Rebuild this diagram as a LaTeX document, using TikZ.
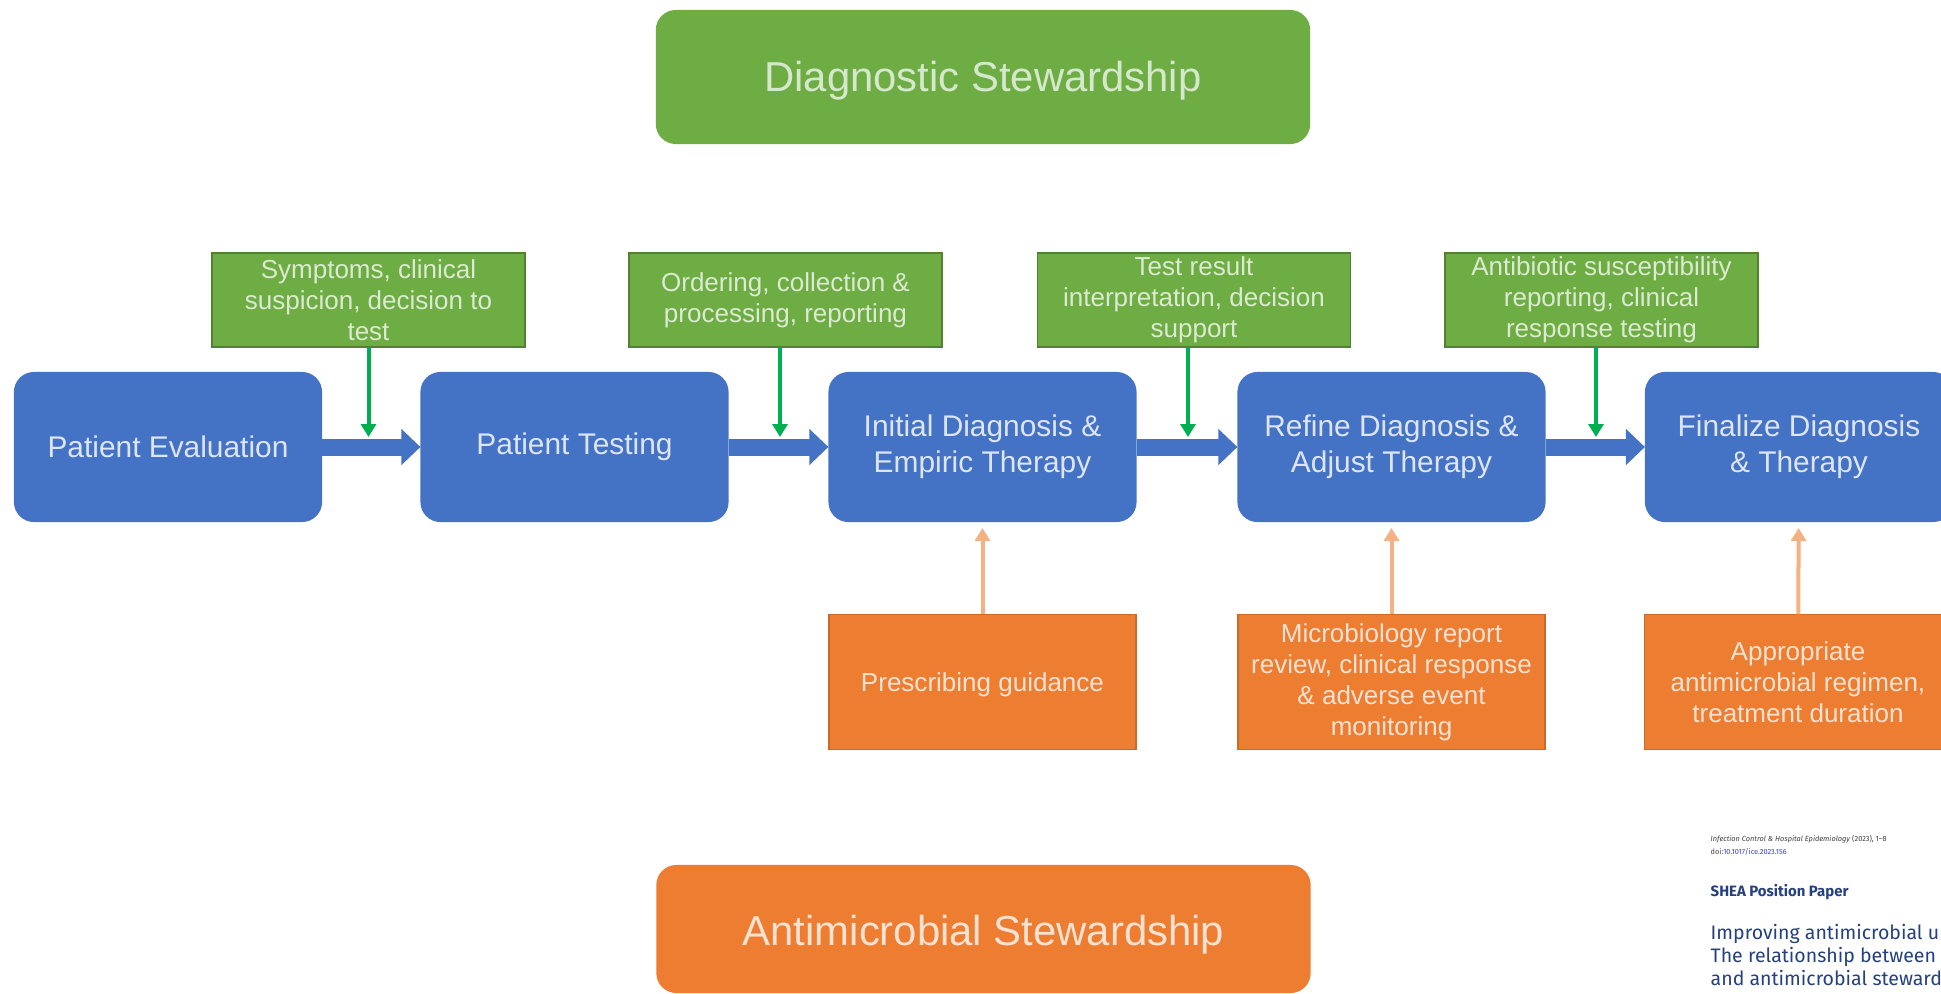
\documentclass[tikz,border=0pt]{standalone}
\usepackage{fontspec}
\setmainfont{Liberation Sans}
\newfontfamily\paperfont{Fira Sans}
\usetikzlibrary{arrows.meta}
\usepackage{xcolor}
\definecolor{mygreen}{HTML}{6EAC44}
\definecolor{myblue}{HTML}{4472C4}
\definecolor{myorange}{HTML}{ED7D31}
\definecolor{mylime}{HTML}{00B050}
\definecolor{mypeach}{HTML}{F4B183}
\definecolor{mynavy}{HTML}{24407E}
\definecolor{mylink}{HTML}{3A3AF0}
\tikzset{
  x=0.01cm, y=-0.01cm, % one unit = one pixel, y pointing down
  box/.style={inner sep=0,outer sep=0,align=center},
  node head/.style={box,rounded corners=2mm,minimum width=6.54cm,minimum height=1.34cm,text depth=2.5pt,font=\fontsize{11.9}{14}\selectfont},
  node stage/.style={box,rounded corners=2mm,fill=myblue,text=white!82!myblue,minimum width=3.08cm,minimum height=1.5cm,font=\fontsize{8.5}{10.2}\selectfont},
  node test/.style={box,fill=mygreen,draw=mygreen!75!black,line width=0.15mm,text=white!75!mygreen,minimum width=3.13cm,minimum height=0.94cm,font=\fontsize{7.4}{8.8}\selectfont},
  node rx/.style={box,fill=myorange,draw=myorange!85!black,line width=0.15mm,text=white!78!myorange,minimum width=3.07cm,minimum height=1.35cm,font=\fontsize{7.4}{8.8}\selectfont},
  flow arrow/.style={-{Triangle[length=1.9mm,width=3.5mm]},line width=1.7mm,myblue},
  test arrow/.style={-{Triangle[length=1.3mm,width=1.5mm]},line width=0.4mm,mylime},
  rx arrow/.style={-{Triangle[length=1.3mm,width=1.5mm]},line width=0.4mm,mypeach,shorten >=0.6mm},
  paper/.style={inner sep=0,anchor=west,align=left,text=mynavy}
}

\begin{document}
\begin{tikzpicture}
    \useasboundingbox[fill=white] (0,0) rectangle (1941,993);

    \node[node head,fill=mygreen,text=white!72!mygreen,text height=11pt] (diag) at (983,77) {Diagnostic Stewardship};
    \node[node head,fill=myorange,text=white!78!myorange,minimum height=1.28cm,text height=12pt] (amr) at (983.5,929) {Antimicrobial Stewardship};

    % clinical pathway
    \node[node stage] (eval) at (168,447) {Patient Evaluation};
    \node[node stage] (testing) at (574.5,447) {Patient Testing};
    \node[node stage] (initial) at (982.5,447) {Initial Diagnosis \&\\Empiric Therapy};
    \node[node stage] (refine) at (1391.5,447) {Refine Diagnosis \&\\Adjust Therapy};
    \node[node stage] (final) at (1799,447) {Finalize Diagnosis\\\& Therapy};

    \draw[flow arrow] (eval) -- (testing);
    \draw[flow arrow] (testing) -- (initial);
    \draw[flow arrow] (initial) -- (refine);
    \draw[flow arrow] (refine) -- (final);

    % diagnostic stewardship steps
    \node[node test] (suspect) at (368.5,300) {Symptoms, clinical\\suspicion, decision to\\test};
    \node[node test] (order) at (785.5,300) {Ordering, collection \&\\processing, reporting};
    \node[node test] (interpret) at (1194,300) {Test result\\interpretation, decision\\support};
    \node[node test] (suscept) at (1601.5,300) {Antibiotic susceptibility\\reporting, clinical\\response testing};

    \coordinate (j1) at (368.5,437);
    \coordinate (j2) at (780,437);
    \coordinate (j3) at (1188,437);
    \coordinate (j4) at (1596,437);
    \draw[test arrow] (suspect) -- (j1);
    \draw[test arrow] (order.south -| j2) -- (j2);
    \draw[test arrow] (interpret.south -| j3) -- (j3);
    \draw[test arrow] (suscept.south -| j4) -- (j4);

    % antimicrobial stewardship steps
    \node[node rx,text height=7pt] (prescribe) at (982.5,682) {Prescribing guidance};
    \node[node rx] (review) at (1391.5,682) {Microbiology report\\review, clinical response\\\& adverse event\\monitoring};
    \node[node rx] (regimen) at (1798,682) {Appropriate\\antimicrobial regimen,\\treatment duration};

    \draw[rx arrow] (prescribe) -- (initial);
    \draw[rx arrow] (review) -- (refine);
    \draw[rx arrow] (regimen) -- (final);

    % journal header
    \node[paper,text=black!75,font=\paperfont\fontsize{2.1}{2.5}\selectfont] (cite) at (1710,839) {\textit{Infection Control \& Hospital Epidemiology} (2023), 1–8};
    \node[paper,text=black!75,font=\paperfont\fontsize{2.1}{2.5}\selectfont] (doi) at (1710,852) {doi:\textcolor{mylink}{10.1017/ice.2023.156}};
    \node[paper,font=\paperfont\bfseries\fontsize{4.25}{5}\selectfont] (kind) at (1710,892) {SHEA Position Paper};
    \node[paper,font=\paperfont\fontsize{5.55}{6.55}\selectfont] (title) at (1710,955) {Improving antimicrobial u\\The relationship between\\and antimicrobial steward};
\end{tikzpicture}
\end{document}
